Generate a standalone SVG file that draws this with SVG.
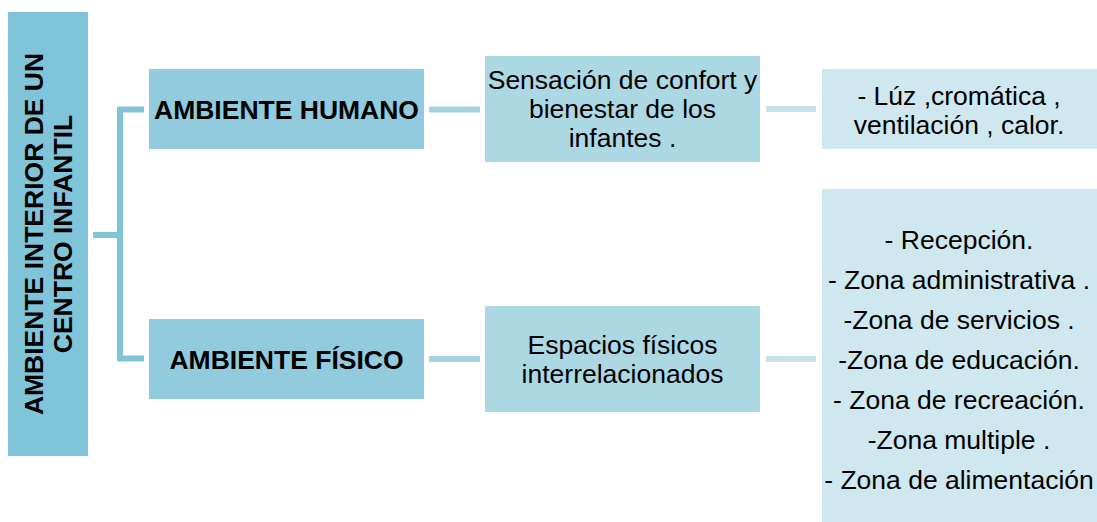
<svg xmlns="http://www.w3.org/2000/svg" width="1097" height="522" viewBox="0 0 1097 522">
<style>
text{font-family:"Liberation Sans",Arial,sans-serif;font-size:26.5px;fill:#000;text-anchor:middle}
.b{font-weight:bold}
.c0{fill:#7fc4d9}
.c1{fill:#92cbdd}
.c2{fill:#acd8e4}
.c3{fill:#cfe7ef}
.ln{fill:none;stroke-width:6}
</style>
<rect width="1097" height="522" fill="#fff"/>
<g id="connectors">
<path class="ln" d="M93 235H120M120 107V361M118 109.5H144M118 358.5H144" stroke="#7fc4d9" stroke-width="5"/>
<path class="ln" d="M429 109.5H480M429 359H480" stroke="#a6d3e1"/>
<path class="ln" d="M766 109H816M766 359H816" stroke="#c6e2eb"/>
</g>
<g id="root">
<rect class="c0" x="8" y="12" width="80" height="444"/>
<text class="b" transform="translate(43,234) rotate(-90)"><tspan x="0" y="0">AMBIENTE INTERIOR DE UN</tspan><tspan x="0" y="29">CENTRO INFANTIL</tspan></text>
</g>
<g id="humano">
<rect class="c1" x="149" y="69" width="275" height="80"/>
<text class="b" x="286.5" y="119">AMBIENTE HUMANO</text>
</g>
<g id="fisico">
<rect class="c1" x="149" y="319" width="275" height="80"/>
<text class="b" x="286.5" y="369">AMBIENTE FÍSICO</text>
</g>
<g id="sensacion">
<rect class="c2" x="485" y="56" width="275" height="106"/>
<text x="622.5" y="89">Sensación de confort y</text>
<text x="622.5" y="118">bienestar de los</text>
<text x="622.5" y="147">infantes .</text>
</g>
<g id="espacios">
<rect class="c2" x="485" y="306" width="275" height="106"/>
<text x="622.5" y="354">Espacios físicos</text>
<text x="622.5" y="383">interrelacionados</text>
</g>
<g id="luz">
<rect class="c3" x="822" y="69" width="275" height="80"/>
<text x="959" y="105">- Lúz ,cromática ,</text>
<text x="959" y="134">ventilación , calor.</text>
</g>
<g id="zonas">
<rect class="c3" x="822" y="189" width="275" height="340"/>
<text x="959" y="249">- Recepción.</text>
<text x="959" y="289">- Zona administrativa .</text>
<text x="959" y="329">-Zona de servicios .</text>
<text x="959" y="369">-Zona de educación.</text>
<text x="959" y="409">- Zona de recreación.</text>
<text x="959" y="449">-Zona multiple .</text>
<text x="959" y="489">- Zona de alimentación</text>
</g>
</svg>
